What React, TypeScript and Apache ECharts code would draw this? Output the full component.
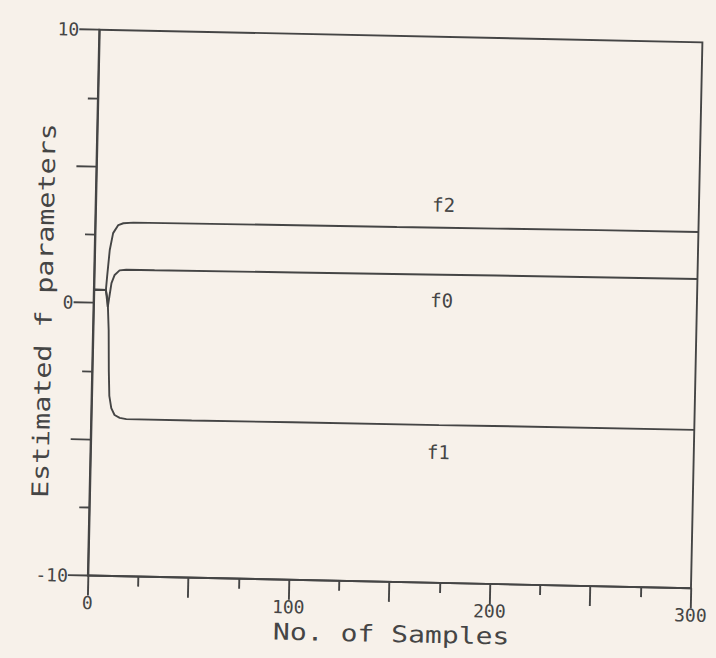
import React, { useEffect, useRef } from "react";
import * as echarts from "echarts";

// Tick labels shown on the axes
const xTickLabels = [0, 100, 200, 300];
const yTickLabels = [-10, 0, 10];

// Estimated parameter f2
const f2Samples = [0, 6, 6.5, 7.5, 9, 11.5, 14, 19, 50, 100, 150, 173, 200, 250, 300];
const f2Values = [0.47, 0.47, 1.0, 1.94, 2.56, 2.86, 2.93, 2.96, 2.97, 2.99, 3.0, 3.01, 3.02, 3.04, 3.05];

// Estimated parameter f0
const f0Samples = [0, 6, 7.1, 8.7, 10.2, 12.6, 15.9, 30, 100, 173, 200, 300];
const f0Values = [0.47, 0.47, -0.15, 0.73, 1.03, 1.2, 1.23, 1.23, 1.26, 1.29, 1.3, 1.33];

// Estimated parameter f1
const f1Samples = [0, 6, 7, 7.8, 8.3, 8.8, 9.9, 11.6, 14.2, 17.5, 50, 100, 173, 200, 300];
const f1Values = [0.47, 0.47, 0.1, -1.0, -2.5, -3.4, -3.85, -4.1, -4.2, -4.24, -4.24, -4.23, -4.22, -4.21, -4.2];

const seriesNames = ["f2", "f0", "f1"];
const labelSample = 173;

const xTitle = "No. of Samples";
const yTitle = "Estimated f parameters";

export default function App() {
  const ref = useRef<HTMLDivElement>(null);

  useEffect(() => {
    if (!ref.current) return;
    const chart = echarts.init(ref.current, null, { renderer: "svg" });
    const ink = "#454545";
    const font = "DejaVu Sans Mono";
    const lineStyle = { color: ink, width: 1.9 };

    const mk = (
      samples: number[],
      values: number[],
      name: string,
      pos: string,
      dist: number
    ) => ({
      type: "line",
      name,
      showSymbol: true,
      showAllSymbol: true,
      symbol: "circle",
      symbolSize: 0,
      silent: true,
      lineStyle,
      itemStyle: { color: ink },
      label: { show: false },
      emphasis: { disabled: true },
      data: samples.map((s, i) =>
        s === labelSample
          ? {
              value: [s, values[i]],
              label: {
                show: true,
                formatter: name,
                position: pos,
                distance: dist,
                fontFamily: font,
                fontSize: 19,
                color: ink,
              },
            }
          : [s, values[i]]
      ),
    });

    chart.setOption({
      animation: false,
      backgroundColor: "transparent",
      grid: {
        left: 93.5,
        top: 36,
        width: 610,
        height: 546,
        show: true,
        borderColor: ink,
        borderWidth: 1.9,
        backgroundColor: "transparent",
      },
      xAxis: {
        type: "value",
        min: 0,
        max: 300,
        interval: 50,
        axisLine: { show: true, onZero: false, lineStyle },
        axisTick: { show: true, length: 20, lineStyle },
        minorTick: { show: true, splitNumber: 2, length: 10, lineStyle },
        splitLine: { show: false },
        minorSplitLine: { show: false },
        axisLabel: {
          margin: 18,
          fontFamily: font,
          fontSize: 18,
          color: ink,
          showMinLabel: true,
          showMaxLabel: true,
          formatter: (v: number) => (xTickLabels.includes(v) ? String(v) : ""),
        },
      },
      yAxis: {
        type: "value",
        min: -10,
        max: 10,
        interval: 5,
        axisLine: { show: true, onZero: false, lineStyle },
        axisTick: { show: true, length: 20, lineStyle },
        minorTick: { show: true, splitNumber: 2, length: 10, lineStyle },
        splitLine: { show: false },
        minorSplitLine: { show: false },
        axisLabel: {
          margin: 20,
          fontFamily: font,
          fontSize: 18,
          color: ink,
          showMinLabel: true,
          showMaxLabel: true,
          formatter: (v: number) => (yTickLabels.includes(v) ? String(v) : ""),
        },
      },
      graphic: [
        {
          type: "text",
          x: 398,
          y: 634,
          scaleX: 1.22,
          silent: true,
          style: {
            text: xTitle,
            font: `23px "${font}"`,
            fill: ink,
            textAlign: "center",
            textVerticalAlign: "middle",
            align: "center",
            verticalAlign: "middle",
          },
        },
        {
          type: "text",
          x: 44,
          y: 318,
          rotation: Math.PI / 2,
          scaleX: 1.23,
          silent: true,
          style: {
            text: yTitle,
            font: `23px "${font}"`,
            fill: ink,
            textAlign: "center",
            textVerticalAlign: "middle",
            align: "center",
            verticalAlign: "middle",
          },
        },
      ],
      series: [
        mk(f2Samples, f2Values, seriesNames[0], "top", 13.5),
        mk(f0Samples, f0Values, seriesNames[1], "bottom", 16),
        mk(f1Samples, f1Values, seriesNames[2], "bottom", 17.5),
      ],
    });

    return () => chart.dispose();
  }, []);

  return (
    <div
      style={{
        position: "fixed",
        left: 0,
        top: 0,
        width: 716,
        height: 658,
        background: "#f7f1ea",
        overflow: "hidden",
      }}
    >
      <div
        ref={ref}
        style={{
          width: 716,
          height: 658,
          transform: "rotate(1.2deg)",
          transformOrigin: "398.5px 309px",
        }}
      />
    </div>
  );
}
